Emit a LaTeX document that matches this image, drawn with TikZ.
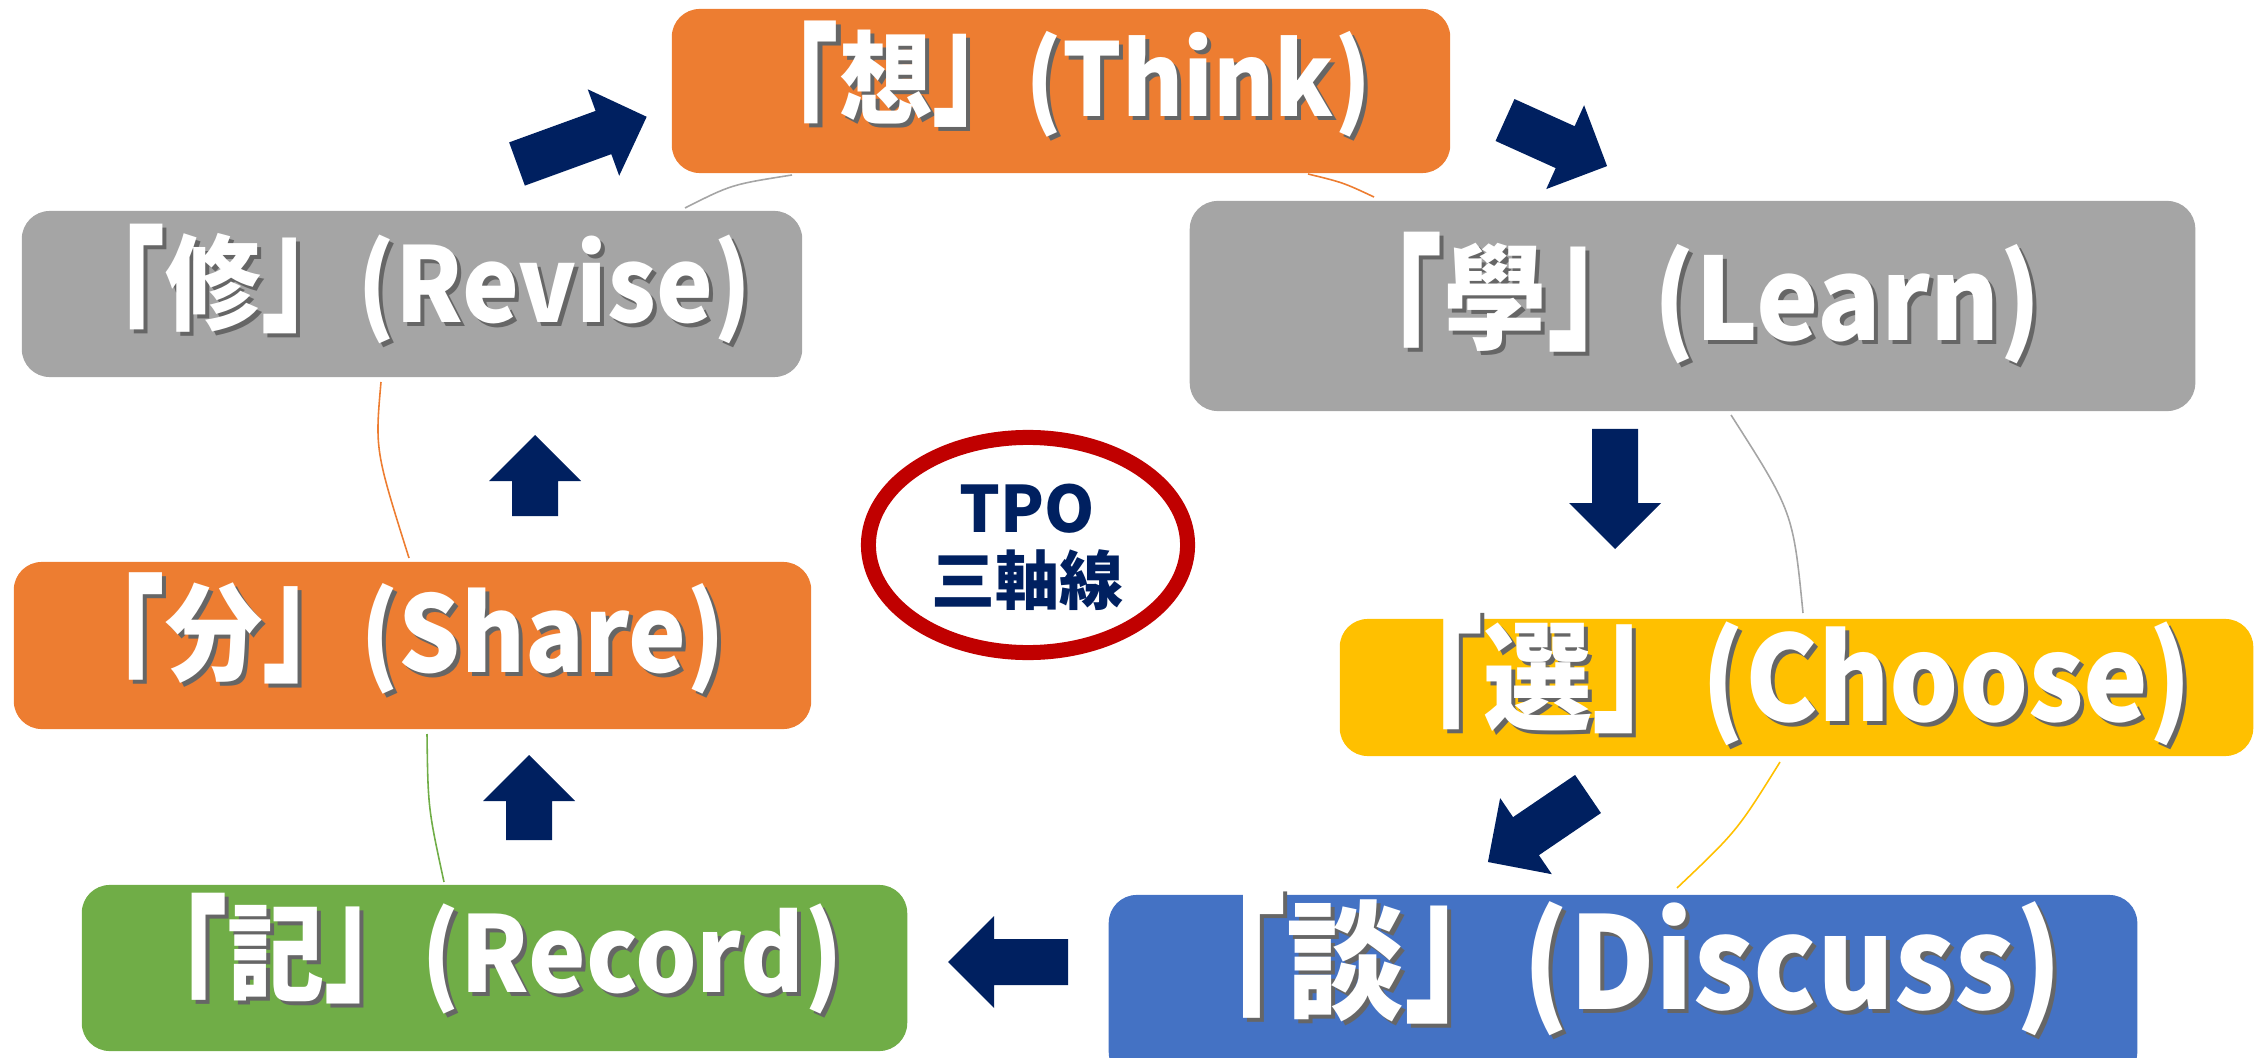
\documentclass[tikz,border=0pt]{standalone}
\usepackage{fontspec}
\usepackage{graphicx}
\newfontfamily\cjk{Noto Sans CJK JP}
\newfontfamily\cjkn{Noto Sans CJK JP}[FakeStretch=0.92]
\usetikzlibrary{shapes.geometric}
\definecolor{cOrange}{HTML}{ED7D31}
\definecolor{cGray}{HTML}{A5A5A5}
\definecolor{cGold}{HTML}{FFC000}
\definecolor{cBlue}{HTML}{4472C4}
\definecolor{cGreen}{HTML}{70AD47}
\definecolor{cNavy}{HTML}{002060}
\definecolor{cRed}{HTML}{C00000}
\newcommand\lbr{\raisebox{-0.42em}{\scalebox{1}[1.6]{「}}}
\newcommand\rbr{\raisebox{0.03em}{\scalebox{1}[1.45]{」}}}
\newcommand\shd[1]{\makebox[0pt][l]{\hspace{0.04cm}\raisebox{-0.04cm}{\color{black!60}#1}}#1}
\newcommand\fsz[1]{\fontsize{#1}{#1}\selectfont}
\tikzset{
  stagebox/.style={rounded corners=0.28cm, inner sep=0pt, draw=none},
  stagetext/.style={text=white, inner sep=0pt, anchor=east},
  thinarc/.style={line width=0.45pt},
  pics/barrow/.style={code={\fill[cNavy] (0,-23) -- (#1-46,-23) -- (#1-46,-46) -- (#1,0) -- (#1-46,46) -- (#1-46,23) -- (0,23) -- cycle;}},
}
\begin{document}
\begin{tikzpicture}[x=0.01cm,y=-0.01cm]
\useasboundingbox (0,0) rectangle (2267,1058);
\clip (0,0) rectangle (2267,1058);
% boxes
\node[stagebox, fill=cOrange, minimum width=7.78cm, minimum height=1.64cm] (think) at (1061,91) {};
\node[stagebox, fill=cGray, minimum width=10.05cm, minimum height=2.10cm] (learn) at (1692.5,306) {};
\node[stagebox, fill=cGold, minimum width=9.13cm, minimum height=1.37cm] (choose) at (1796.5,687.5) {};
\node[stagebox, fill=cBlue, minimum width=10.28cm, minimum height=1.85cm] (discuss) at (1623,987.5) {};
\node[stagebox, fill=cGreen, minimum width=8.25cm, minimum height=1.66cm] (record) at (494.5,968) {};
\node[stagebox, fill=cOrange, minimum width=7.97cm, minimum height=1.67cm] (share) at (412.5,645.5) {};
\node[stagebox, fill=cGray, minimum width=7.80cm, minimum height=1.66cm] (revise) at (412,294) {};
% labels
\node[stagetext, font=\cjkn\bfseries\fsz{28.8}] (thinkT) at (1372,92) {\shd{\lbr 想\rbr(Think)}};
\node[stagetext, font=\cjkn\bfseries\fsz{32.5}] (learnT) at (2042,312) {\shd{\lbr 學\rbr(Learn)}};
\node[stagetext, font=\cjkn\bfseries\fsz{33.7}] (chooseT) at (2193,692) {\shd{\lbr 選\rbr(Choose)}};
\node[stagetext, font=\cjkn\bfseries\fsz{36.5}] (discussT) at (2063,978) {\shd{\lbr 談\rbr(Discuss)}};
\node[stagetext, font=\cjkn\bfseries\fsz{30}] (recordT) at (844,967) {\shd{\lbr 記\rbr(Record)}};
\node[stagetext, font=\cjkn\bfseries\fsz{30.1}] (shareT) at (726,647) {\shd{\lbr 分\rbr(Share)}};
\node[stagetext, font=\cjkn\bfseries\fsz{29.6}] (reviseT) at (752,297) {\shd{\lbr 修\rbr(Revise)}};
% thin arcs
\draw[thinarc, cGray] (685,208) .. controls (731.5,184.5) .. (792,175);
\draw[thinarc, cOrange] (1308,174) .. controls (1343,182.5) .. (1374,197);
\draw[thinarc, cGray] (1731,415) .. controls (1793,512) .. (1803,613);
\draw[thinarc, cGold] (1780,762) .. controls (1737,831) .. (1677,888);
\draw[thinarc, cGreen] (444,882) .. controls (428,808) .. (427,734);
\draw[thinarc, cOrange] (409,558) .. controls (375,450) .. (381,382);
% block arrows
\pic[rotate=20] (a1) at (517,164) {barrow=138};
\pic[rotate=-24.3] (a2) at (1505,120) {barrow=112};
\pic[rotate=-90] (a3) at (1615,429) {barrow=120};
\pic[rotate=214.2] (a4) at (1588,794) {barrow=121};
\pic[rotate=180] (a5) at (1068,962) {barrow=120};
\pic[rotate=90] (a6) at (529,840) {barrow=85};
\pic[rotate=90] (a7) at (535,516) {barrow=81};
% centre ellipse
\draw[cRed, line width=0.15cm] (1028,545) ellipse [x radius=1.595cm, y radius=1.075cm];
\node[text=cNavy, align=center, inner sep=0pt, font=\cjk\bfseries\fontsize{18.2}{20.5}\selectfont] (tpo) at (1027,547) {TPO\\三軸線};
\end{tikzpicture}
\end{document}
